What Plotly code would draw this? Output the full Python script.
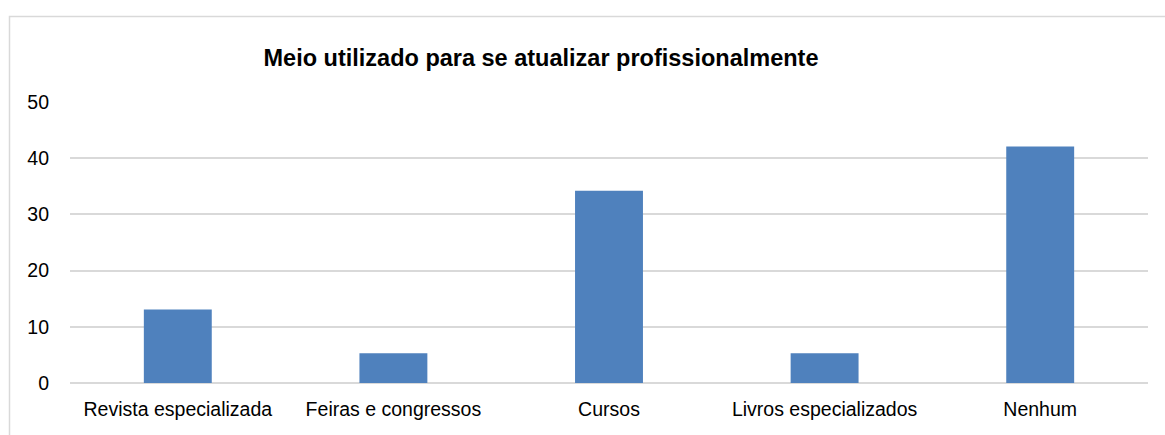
import plotly.graph_objects as go

categories = ["Revista especializada", "Feiras e congressos", "Cursos",
              "Livros especializados", "Nenhum"]
values = [13.1, 5.3, 34.2, 5.3, 42.1]
y_ticks = [0, 10, 20, 30, 40, 50]

W, H = 1165, 435
L, R, T, B = 70, 17, 102, 52
pw, ph = W - L - R, H - T - B

def px_x(x):
    return (x - L) / pw

def px_y(y):
    return (H - B - y) / ph

FONT = "Liberation Sans, Arial, sans-serif"

fig = go.Figure(go.Bar(
    x=categories, y=values,
    marker=dict(color="#4F81BD", line=dict(width=0)),
    width=0.315,
))

fig.update_layout(
    width=W, height=H,
    margin=dict(l=L, r=R, t=T, b=B),
    paper_bgcolor="white", plot_bgcolor="white",
    showlegend=False,
    font=dict(family=FONT, size=19.5, color="#000000"),
    title=dict(
        text="<b>Meio utilizado para se atualizar profissionalmente</b>",
        x=541 / W, xanchor="center", y=1 - 58 / H, yanchor="middle",
        font=dict(family=FONT, size=23.5, color="#000000"),
    ),
    xaxis=dict(showgrid=False, showline=False, ticks="",
               ticklabelstandoff=12, tickfont=dict(size=19.5)),
    yaxis=dict(range=[0, 50], tickvals=y_ticks, showgrid=True,
               gridcolor="#d9d9d9", gridwidth=1.5, zeroline=True,
               zerolinecolor="#d9d9d9", zerolinewidth=1.5,
               showline=False, ticks="", ticklabelstandoff=20,
               tickfont=dict(size=19.5)),
    shapes=[dict(type="rect", xref="paper", yref="paper",
                 x0=px_x(9.5), x1=px_x(1300), y0=px_y(500), y1=px_y(16.5),
                 line=dict(color="#d9d9d9", width=1.5), layer="below")],
)

fig.write_html("out.html")
